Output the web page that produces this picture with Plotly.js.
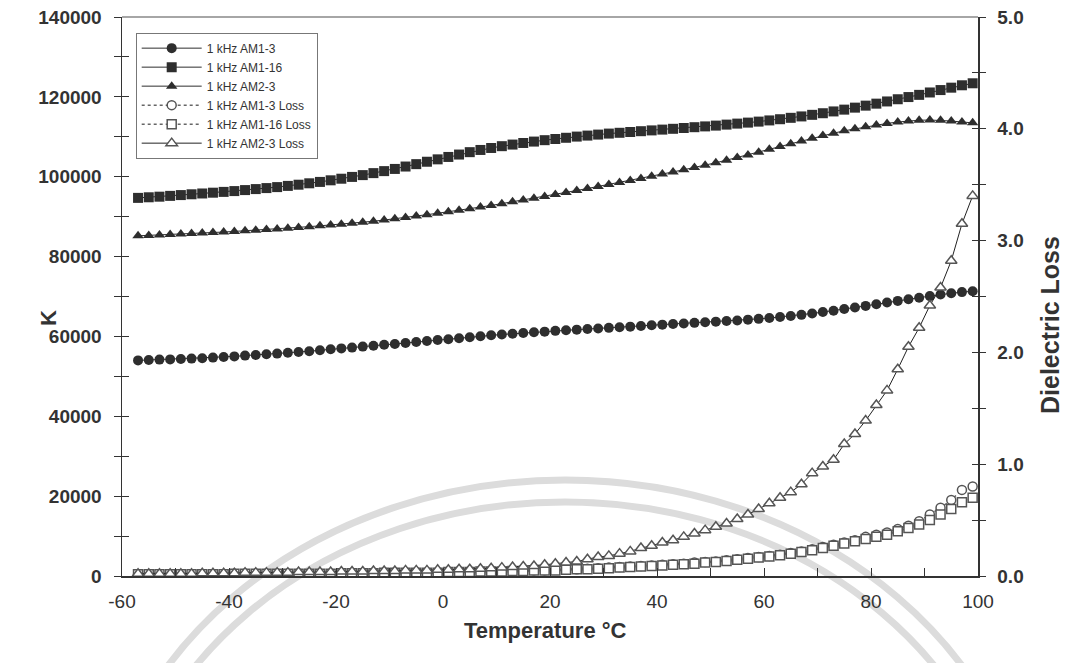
<!DOCTYPE html>
<html>
<head>
<meta charset="utf-8">
<script src="https://cdn.plot.ly/plotly-3.0.1.min.js"></script>
<style>html,body{margin:0;padding:0;background:#fff;}#chart{width:1073px;height:663px;}</style>
</head>
<body>
<div id="chart"></div>
<script>
// Temperature (°C)
const temperature = [-57,-55,-53,-51,-49,-47,-45,-43,-41,-39,-37,-35,-33,-31,-29,-27,-25,-23,-21,-19,-17,-15,-13,-11,-9,-7,-5,-3,-1,1,3,5,7,9,11,13,15,17,19,21,23,25,27,29,31,33,35,37,39,41,43,45,47,49,51,53,55,57,59,61,63,65,67,69,71,73,75,77,79,81,83,85,87,89,91,93,95,97,99];

// K (left axis)
const kAM1_3 = [54000,54100,54200,54250,54350,54450,54550,54700,54850,55000,55200,55350,55550,55700,55900,56100,56300,56550,56800,57000,57200,57450,57650,57900,58100,58350,58600,58850,59100,59300,59550,59800,60050,60300,60500,60650,60850,61050,61200,61400,61550,61700,61850,62000,62150,62300,62450,62600,62800,62950,63100,63250,63400,63550,63700,63850,64000,64200,64400,64600,64850,65100,65400,65750,66100,66450,66850,67250,67650,68050,68500,68900,69300,69700,70100,70500,70800,71100,71300];
const kAM1_16 = [94700,94850,95000,95200,95400,95600,95800,96000,96200,96400,96650,96900,97150,97400,97700,98000,98350,98700,99100,99500,99950,100400,100900,101400,101950,102550,103150,103750,104350,104950,105550,106150,106700,107200,107650,108050,108450,108800,109150,109450,109750,110050,110300,110550,110800,111000,111200,111400,111600,111800,112000,112200,112400,112600,112800,113050,113300,113550,113800,114100,114400,114750,115100,115500,115900,116350,116800,117300,117800,118300,118850,119400,119950,120500,121100,121700,122300,122900,123400];
const kAM2_3 = [85200,85300,85400,85550,85650,85750,85900,86000,86150,86300,86450,86600,86750,86900,87100,87300,87500,87700,87900,88100,88350,88600,88850,89150,89450,89800,90150,90500,90850,91200,91600,92000,92400,92800,93250,93700,94150,94600,95050,95550,96050,96550,97050,97550,98050,98550,99050,99550,100100,100650,101200,101750,102300,102900,103500,104150,104800,105450,106150,106850,107550,108250,108950,109650,110300,110900,111500,112000,112500,112950,113350,113700,113950,114150,114200,114150,113950,113700,113500];

// Dielectric loss (right axis)
const lossAM1_3 = [0.015,0.015,0.015,0.015,0.015,0.015,0.015,0.015,0.015,0.02,0.02,0.02,0.02,0.02,0.02,0.02,0.02,0.02,0.02,0.025,0.025,0.025,0.025,0.03,0.03,0.03,0.03,0.03,0.03,0.035,0.035,0.035,0.04,0.04,0.04,0.045,0.045,0.05,0.05,0.055,0.06,0.06,0.065,0.07,0.075,0.08,0.085,0.09,0.095,0.10,0.105,0.11,0.12,0.125,0.13,0.14,0.15,0.16,0.17,0.18,0.19,0.205,0.22,0.24,0.26,0.28,0.30,0.32,0.35,0.37,0.39,0.42,0.45,0.49,0.55,0.61,0.68,0.77,0.80];
const lossAM1_16 = [0.015,0.015,0.015,0.015,0.015,0.015,0.015,0.015,0.015,0.02,0.02,0.02,0.02,0.02,0.02,0.02,0.02,0.02,0.02,0.025,0.025,0.025,0.025,0.03,0.03,0.03,0.03,0.03,0.03,0.035,0.035,0.035,0.04,0.04,0.04,0.045,0.045,0.05,0.05,0.05,0.055,0.06,0.06,0.065,0.07,0.075,0.08,0.085,0.09,0.095,0.10,0.105,0.11,0.12,0.125,0.135,0.145,0.155,0.165,0.175,0.185,0.20,0.215,0.23,0.25,0.27,0.29,0.31,0.33,0.35,0.37,0.40,0.43,0.46,0.50,0.55,0.60,0.66,0.70];
const lossAM2_3 = [0.02,0.02,0.02,0.02,0.02,0.02,0.025,0.025,0.025,0.025,0.03,0.03,0.03,0.03,0.03,0.035,0.035,0.035,0.035,0.04,0.04,0.04,0.045,0.045,0.045,0.05,0.05,0.05,0.055,0.055,0.06,0.06,0.065,0.07,0.075,0.08,0.085,0.09,0.10,0.11,0.12,0.13,0.15,0.17,0.18,0.20,0.22,0.25,0.27,0.30,0.32,0.35,0.38,0.41,0.44,0.47,0.51,0.55,0.60,0.65,0.70,0.75,0.82,0.92,0.98,1.04,1.18,1.27,1.39,1.53,1.66,1.85,2.05,2.22,2.42,2.58,2.82,3.15,3.40];

const seriesNames = ['1 kHz AM1-3','1 kHz AM1-16','1 kHz AM2-3','1 kHz AM1-3 Loss','1 kHz AM1-16 Loss','1 kHz AM2-3 Loss'];

// Tick labels
const xTickVals = [-60,-40,-20,0,20,40,60,80,100];
const xTickText = ['-60','-40','-20','0','20','40','60','80','100'];

const dark = '#2e2e2e';
const traces = [
  {name: seriesNames[0], x: temperature, y: kAM1_3, yaxis: 'y', mode: 'lines+markers',
   line: {color: dark, width: 1}, marker: {symbol: 'circle', size: 10, color: dark}},
  {name: seriesNames[1], x: temperature, y: kAM1_16, yaxis: 'y', mode: 'lines+markers',
   line: {color: dark, width: 1}, marker: {symbol: 'square', size: 10, color: dark}},
  {name: seriesNames[2], x: temperature, y: kAM2_3, yaxis: 'y', mode: 'lines+markers',
   line: {color: dark, width: 1}, marker: {symbol: 'triangle-up', size: 10, color: dark}},
  {name: seriesNames[3], x: temperature, y: lossAM1_3, yaxis: 'y2', mode: 'lines+markers',
   line: {color: '#666', width: 1.5, dash: 'dot'}, marker: {symbol: 'circle', size: 9, color: '#fff', line: {color: '#555', width: 1.5}}},
  {name: seriesNames[4], x: temperature, y: lossAM1_16, yaxis: 'y2', mode: 'lines+markers',
   line: {color: '#666', width: 1.5, dash: 'dot'}, marker: {symbol: 'square', size: 9, color: '#fff', line: {color: '#555', width: 1.5}}},
  {name: seriesNames[5], x: temperature, y: lossAM2_3, yaxis: 'y2', mode: 'lines+markers',
   line: {color: '#222', width: 1}, marker: {symbol: 'triangle-up', size: 10, color: '#fff', line: {color: '#555', width: 1.5}}},
  {x: [], y: [], yaxis: 'y3', showlegend: false, hoverinfo: 'skip'},
  {x: [], y: [], yaxis: 'y4', showlegend: false, hoverinfo: 'skip'}
];

const fam = 'Liberation Sans, Arial, sans-serif';
const tickFont = {family: fam, size: 19, color: '#333'};
const axisColor = '#333';

// pixel helpers for annotations/watermark (plot area: x 122..978, y 17..576)
const px = v => (v - 122) / 856;
const py = v => (576 - v) / 559;

const layout = {
  width: 1073, height: 663,
  margin: {l: 122, r: 95, t: 17, b: 87},
  paper_bgcolor: '#fff', plot_bgcolor: '#fff',
  showlegend: true,
  legend: {x: 0.016, y: 0.972, xanchor: 'left', yanchor: 'top', bgcolor: '#fff',
           bordercolor: '#777', borderwidth: 1, itemwidth: 60,
           font: {family: fam, size: 12, color: '#333'},
           tracegroupgap: 0},
  xaxis: {range: [-60, 100], tickvals: xTickVals, ticktext: xTickText, ticks: 'inside', ticklen: 8, tickcolor: axisColor,
          minor: {dtick: 10, tick0: -60, ticks: 'inside', ticklen: 8, tickcolor: axisColor},
          showline: true, linecolor: axisColor, linewidth: 1.5, showgrid: false, zeroline: false,
          tickfont: tickFont, ticklabelstandoff: 8},
  yaxis: {range: [0, 140000], dtick: 20000, tickformat: 'd', ticks: 'outside', ticklen: 7, tickcolor: axisColor,
          minor: {dtick: 10000, ticks: 'outside', ticklen: 7, tickcolor: axisColor},
          showline: true, linecolor: axisColor, linewidth: 1.5, showgrid: false, zeroline: false,
          tickfont: Object.assign({}, tickFont, {weight: 'bold'}), ticklabelstandoff: 8},
  yaxis2: {overlaying: 'y', side: 'right', range: [0, 5], dtick: 1, tickformat: '.1f', ticks: 'outside', ticklen: 6,
           tickcolor: axisColor, minor: {dtick: 0.5, ticks: 'outside', ticklen: 6, tickcolor: axisColor},
           showline: true, linecolor: axisColor, linewidth: 1.5, showgrid: false, zeroline: false,
           tickfont: Object.assign({}, tickFont, {weight: 'bold'}), ticklabelstandoff: 8},
  yaxis3: {overlaying: 'y', side: 'left', range: [0, 140000], dtick: 10000, ticks: 'inside', ticklen: 7,
           tickcolor: axisColor, showticklabels: false, showline: false, showgrid: false, zeroline: false},
  yaxis4: {overlaying: 'y', side: 'right', range: [0, 5], dtick: 0.5, ticks: 'inside', ticklen: 6,
           tickcolor: axisColor, showticklabels: false, showline: false, showgrid: false, zeroline: false},
  shapes: [
    {type: 'line', xref: 'paper', yref: 'paper', x0: 0, x1: 1, y0: 1, y1: 1, line: {color: '#888', width: 1.5}},
    // faint scan watermark arcs
    {type: 'circle', xref: 'paper', yref: 'paper', layer: 'below', x0: px(95), x1: px(1035), y0: py(480), y1: py(1280),
     line: {color: '#dcdcdc', width: 7}},
    {type: 'circle', xref: 'paper', yref: 'paper', layer: 'below', x0: px(117), x1: px(1013), y0: py(502), y1: py(1258),
     line: {color: '#dcdcdc', width: 7}}
  ],
  annotations: [
    {text: 'K', xref: 'paper', yref: 'paper', x: px(48), y: py(318), xanchor: 'center', yanchor: 'middle', showarrow: false,
     textangle: -90, font: {family: fam, size: 22, color: '#333', weight: 'bold'}},
    {text: 'Dielectric Loss', xref: 'paper', yref: 'paper', x: px(1050), y: py(325), xanchor: 'center', yanchor: 'middle', showarrow: false,
     textangle: -90, font: {family: fam, size: 25, color: '#333', weight: 'bold'}},
    {text: 'Temperature °C', xref: 'paper', yref: 'paper', x: px(545), y: py(630), xanchor: 'center', yanchor: 'middle', showarrow: false,
     font: {family: 'Liberation Sans Narrow, Liberation Sans, Arial, sans-serif', size: 22, color: '#333', weight: 'bold'}}
  ]
};

Plotly.newPlot('chart', traces, layout, {displayModeBar: false, staticPlot: true});
</script>
</body>
</html>
